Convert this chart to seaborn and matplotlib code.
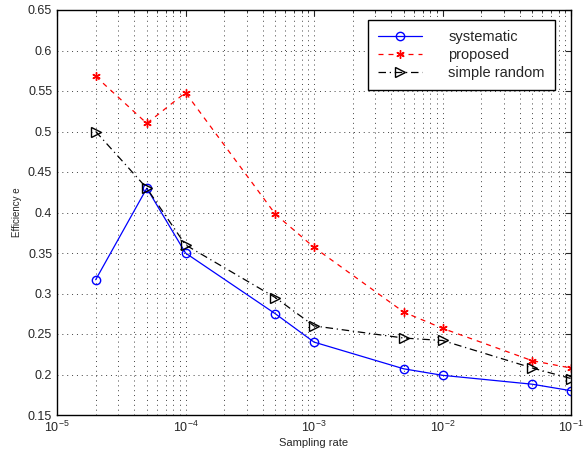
import matplotlib
matplotlib.use("Agg")
import matplotlib.pyplot as plt
import seaborn as sns
import pandas as pd
from matplotlib.ticker import LogLocator, NullFormatter

sampling_rate = [2e-5, 5e-5, 1e-4, 5e-4, 1e-3, 5e-3, 1e-2, 5e-2, 1e-1]
systematic = [0.317, 0.430, 0.350, 0.275, 0.240, 0.207, 0.199, 0.188, 0.180]
proposed = [0.568, 0.510, 0.548, 0.398, 0.357, 0.277, 0.257, 0.217, 0.208]
simple_random = [0.500, 0.430, 0.360, 0.295, 0.260, 0.245, 0.242, 0.208, 0.195]
series_names = ["systematic", "proposed", "simple random"]

sns.set_style("white")
plt.rcParams['font.family'] = ['Liberation Sans', 'DejaVu Sans']
plt.rcParams['mathtext.fontset'] = 'custom'
plt.rcParams['mathtext.rm'] = 'Liberation Sans'
plt.rcParams['mathtext.it'] = 'Liberation Sans'

fig = plt.figure(figsize=(5.87, 4.51), dpi=100)
ax = fig.add_axes([57/587, 36/451, (571-57)/587, (415-10)/451])

styles = [
    dict(color="blue", marker="o", ls="-", mfc="none", ms=6),
    dict(color="red", marker=(6, 2, 0), ls=(0, (4, 4)), mfc="red", ms=6),
    dict(color="black", marker=">", ls=(0, (6, 3, 1, 3)), mfc="none", ms=7),
]
for name, vals, st in zip(series_names, [systematic, proposed, simple_random], styles):
    df = pd.DataFrame({"x": sampling_rate, "y": vals})
    sns.lineplot(data=df, x="x", y="y", ax=ax, label=name, color=st["color"],
                 marker=st["marker"], linestyle=st["ls"],
                 markerfacecolor=st["mfc"], markeredgecolor=st["color"],
                 markersize=st["ms"], markeredgewidth=1.0, linewidth=0.9)

ax.set_xscale("log")
ax.set_xlim(1e-5, 1e-1)
ax.set_ylim(0.15, 0.65)
ax.set_yticks([0.15, 0.2, 0.25, 0.3, 0.35, 0.4, 0.45, 0.5, 0.55, 0.6, 0.65])
ax.set_yticklabels(["0.15", "0.2", "0.25", "0.3", "0.35", "0.4", "0.45", "0.5", "0.55", "0.6", "0.65"])
ax.xaxis.set_major_locator(LogLocator(base=10, numticks=10))
ax.xaxis.set_minor_locator(LogLocator(base=10, subs=range(2, 10), numticks=100))
ax.xaxis.set_minor_formatter(NullFormatter())

gstyle = dict(linestyle=(0, (1, 4)), color="black", linewidth=0.7, alpha=0.75)
ax.grid(True, which="major", **gstyle)
ax.grid(True, which="minor", axis="x", **gstyle)
ax.tick_params(direction="in", which="both", top=True, right=True, labelsize=9, length=4)
ax.tick_params(which="minor", length=2)
for sp in ax.spines.values():
    sp.set_color("black")
    sp.set_linewidth(1.0)

ax.set_xlabel("Sampling rate", fontsize=8, labelpad=2)
ax.set_ylabel("Efficiency e", fontsize=7, labelpad=4)

leg = ax.legend(loc="upper right", bbox_to_anchor=(0.969, 0.975), fontsize=10.5,
                frameon=True, fancybox=False, edgecolor="black", framealpha=1,
                handlelength=3.0, borderpad=0.7, labelspacing=0.25, handletextpad=1.8,
                borderaxespad=0)
leg.get_frame().set_linewidth(1.0)

fig.savefig("out.png", dpi=100)
